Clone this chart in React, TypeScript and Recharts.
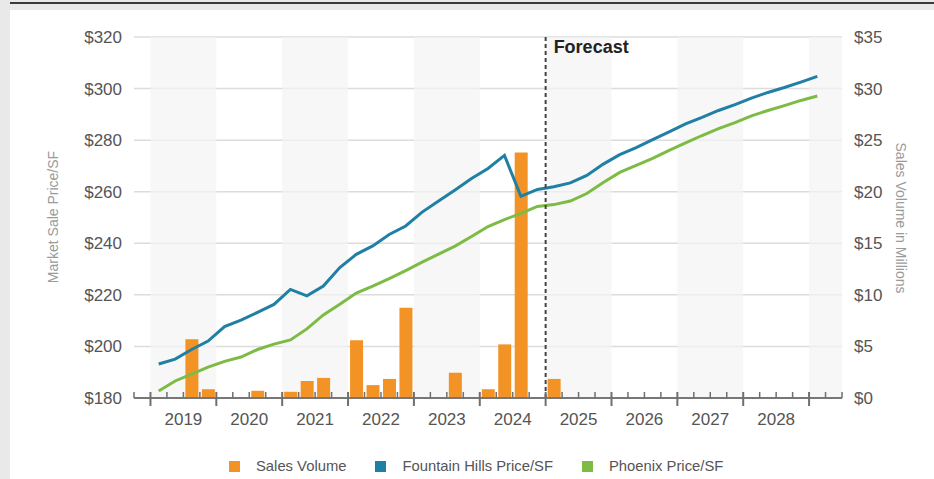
import {
  Bar,
  CartesianGrid,
  ComposedChart,
  Legend,
  Line,
  ReferenceArea,
  ReferenceLine,
  XAxis,
  YAxis,
} from "recharts";

// quarterly series, 2019 Q1 .. 2029 Q1
const years = ["2019", "2020", "2021", "2022", "2023", "2024", "2025", "2026", "2027", "2028"];
const quarters = years
  .flatMap((y) => ["Q1", "Q2", "Q3", "Q4"].map((q) => `${y} ${q}`))
  .concat("2029 Q1");

// sales volume, $ millions (null = no sale that quarter)
const salesVolume = [
  null, null, 5.7, 0.85, null, null, 0.7, null, 0.6, 1.65, 1.95, null, 5.6, 1.25, 1.85, 8.75,
  null, null, 2.45, null, 0.85, 5.2, 23.8, null, 1.85,
];

const fountainHills = [
  193.2, 195.1, 198.8, 202.1, 207.7, 210.2, 213.2, 216.3, 222.1, 219.6, 223.4, 230.6, 235.7, 239.0,
  243.4, 246.7, 252.1, 256.4, 260.7, 265.1, 269.0, 274.1, 258.2, 260.9, 261.9, 263.4, 266.3, 270.7,
  274.4, 277.1, 280.2, 283.2, 286.3, 288.8, 291.5, 293.8, 296.3, 298.5, 300.4, 302.5, 304.7,
];

const phoenix = [
  182.7, 186.6, 189.3, 192.0, 194.2, 195.9, 198.8, 200.9, 202.5, 206.8, 212.2, 216.4, 220.7, 223.4,
  226.3, 229.4, 232.7, 235.8, 238.9, 242.6, 246.5, 249.2, 251.6, 254.3, 255.0, 256.4, 259.3, 263.6,
  267.5, 270.2, 272.9, 276.0, 278.9, 281.8, 284.5, 286.8, 289.4, 291.5, 293.4, 295.4, 297.1,
];

const priceTicks = [180, 200, 220, 240, 260, 280, 300, 320];
const volumeTicks = [0, 5, 10, 15, 20, 25, 30, 35];
const shadedYears = ["2019", "2021", "2023", "2025", "2027", "2029"];
const forecastStart = "2025 Q1";
const legendOrder = ["Sales Volume", "Fountain Hills Price/SF", "Phoenix Price/SF"];

const ORANGE = "#f39325";
const BLUE = "#1f7fa5";
const GREEN = "#7dbb45";
const FONT = "'Liberation Sans', Arial, Helvetica, sans-serif";

const data = quarters.map((quarter, i) => ({
  quarter,
  x: i + 0.5,
  sales: salesVolume[i] ?? null,
  fountain: fountainHills[i],
  phoenix: phoenix[i],
}));

const X_MIN = -1;
const X_MAX = 42;
const xTicks = Array.from({ length: X_MAX - X_MIN + 1 }, (_, i) => i + X_MIN);

function QuarterTick(props: any) {
  const { x, y, payload } = props;
  const v = payload.value as number;
  const major = v % 4 === 0;
  const yearIdx = (v - 2) / 4;
  const label = Number.isInteger(yearIdx) ? years[yearIdx] : undefined;
  return (
    <g>
      <line
        x1={x}
        x2={x}
        y1={y - 6}
        y2={major ? y + 8 : y}
        stroke="#6f6f6f"
        strokeWidth={major ? 2 : 1.5}
      />
      {label && (
        <text x={x} y={y + 27} textAnchor="middle" fill="#555" fontSize={17}>
          {label}
        </text>
      )}
    </g>
  );
}

function ForecastLabel(props: any) {
  const { viewBox } = props;
  return (
    <text x={viewBox.x + 8} y={viewBox.y + 16} fill="#222" fontSize={18} fontWeight="bold">
      Forecast
    </text>
  );
}

function LegendContent(props: any) {
  const { payload = [] } = props;
  const items = [...payload].sort(
    (a: any, b: any) => legendOrder.indexOf(a.value) - legendOrder.indexOf(b.value)
  );
  return (
    <div style={{ display: "flex", alignItems: "center", fontFamily: FONT }}>
      {items.map((entry: any) => (
        <div key={entry.value} style={{ display: "flex", alignItems: "center", marginRight: 29 }}>
          <span style={{ width: 11, height: 11, background: entry.color, display: "inline-block" }} />
          <span style={{ marginLeft: 16, color: "#555", fontSize: 14.8 }}>{entry.value}</span>
        </div>
      ))}
    </div>
  );
}

export default function App() {
  return (
    <div
      style={{
        position: "fixed",
        left: 0,
        top: 0,
        width: 934,
        height: 479,
        background: "#e9e9e9",
        fontFamily: FONT,
        overflow: "hidden",
      }}
    >
      <div style={{ position: "absolute", left: 10, top: 2, width: 924, height: 2, background: "#3a3a3a" }} />
      <div style={{ position: "absolute", left: 10, top: 10, width: 924, height: 469, background: "#fff" }} />
      <div
        style={{
          position: "absolute",
          left: 53,
          top: 217,
          transform: "translate(-50%, -50%) rotate(-90deg)",
          color: "#9a9a9a",
          fontSize: 14,
          whiteSpace: "nowrap",
        }}
      >
        Market Sale Price/SF
      </div>
      <div
        style={{
          position: "absolute",
          left: 901,
          top: 218,
          transform: "translate(-50%, -50%) rotate(90deg)",
          color: "#9a9a9a",
          fontSize: 14,
          whiteSpace: "nowrap",
        }}
      >
        Sales Volume in Millions
      </div>
      <div style={{ position: "absolute", left: 0, top: 0 }}>
        <ComposedChart
          width={934}
          height={479}
          data={data}
          margin={{ top: 37, right: 0, bottom: 51, left: 0 }}
        >
          {shadedYears.map((y) => {
            const x1 = (Number(y) - Number(years[0])) * 4;
            return (
              <ReferenceArea
                key={y}
                yAxisId="left"
                x1={x1}
                x2={Math.min(x1 + 4, X_MAX)}
                fill="#f3f3f3"
                fillOpacity={0.7}
                stroke="none"
              />
            );
          })}
          <CartesianGrid yAxisId="left" vertical={false} stroke="#dcdcdc" strokeWidth={1.5} />
          <XAxis
            dataKey="x"
            type="number"
            domain={[X_MIN, X_MAX]}
            ticks={xTicks}
            interval={0}
            allowDataOverflow
            height={30}
            tickSize={0}
            tickMargin={0}
            tickLine={false}
            axisLine={{ stroke: "#777", strokeWidth: 2 }}
            tick={<QuarterTick />}
          />
          <YAxis
            yAxisId="left"
            domain={[180, 320]}
            ticks={priceTicks}
            tickFormatter={(v) => `$${v}`}
            width={134}
            axisLine={false}
            tickLine={false}
            tickMargin={6}
            tick={{ fill: "#555", fontSize: 17 }}
          />
          <YAxis
            yAxisId="right"
            orientation="right"
            domain={[0, 35]}
            ticks={volumeTicks}
            tickFormatter={(v) => `$${v}`}
            width={92}
            axisLine={false}
            tickLine={false}
            tickMargin={6}
            tick={{ fill: "#555", fontSize: 17 }}
          />
          <Bar
            yAxisId="right"
            dataKey="sales"
            name="Sales Volume"
            fill={ORANGE}
            barSize={13}
            legendType="square"
            isAnimationActive={false}
          />
          <Line
            yAxisId="left"
            dataKey="fountain"
            name="Fountain Hills Price/SF"
            stroke={BLUE}
            strokeWidth={3}
            dot={false}
            legendType="square"
            isAnimationActive={false}
          />
          <Line
            yAxisId="left"
            dataKey="phoenix"
            name="Phoenix Price/SF"
            stroke={GREEN}
            strokeWidth={3}
            dot={false}
            legendType="square"
            isAnimationActive={false}
          />
          <ReferenceLine
            yAxisId="left"
            x={quarters.indexOf(forecastStart)}
            stroke="#444"
            strokeWidth={2}
            strokeDasharray="4 3"
            label={<ForecastLabel />}
          />
          <Legend
            layout="horizontal"
            verticalAlign="middle"
            align="center"
            wrapperStyle={{ top: 458, left: 229, width: 640 }}
            content={<LegendContent />}
          />
        </ComposedChart>
      </div>
    </div>
  );
}
